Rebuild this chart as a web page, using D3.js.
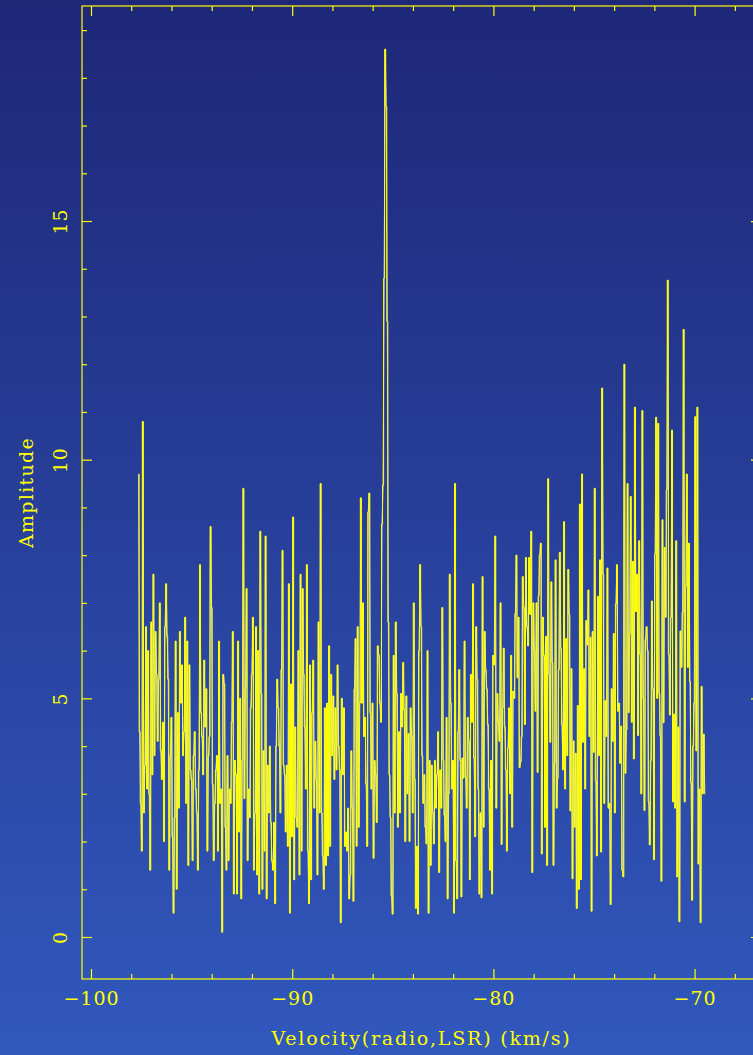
<!DOCTYPE html>
<html>
<head>
<meta charset="utf-8">
<script src="https://cdn.jsdelivr.net/npm/d3@7"></script>
<style>
    html, body { margin: 0; padding: 0; background: #2a44a0; }
    svg { display: block; }
</style>
</head>
<body>
<div id="chart"></div>
<script>
// spectrum channel grid (km/s)
const velocityStart = -97.66;
const channelWidth = 0.0526;

// amplitude per channel, read left to right
const amplitude = [
    9.7, 4.3, 2.8, 1.8, 10.8, 2.6, 3.6, 6.5, 3.1, 6.0,
    3.0, 1.4, 6.6, 3.4, 7.6, 3.8, 6.4, 5.5, 4.1, 5.4,
    7.0, 3.9, 3.3, 4.5, 2.0, 6.5, 7.4, 6.3, 5.4, 1.4,
    3.8, 4.6, 2.1, 0.5, 2.5, 6.2, 1.0, 4.7, 2.7, 6.4,
    4.9, 5.7, 3.8, 4.3, 6.7, 2.8, 6.2, 1.5, 5.7, 3.5,
    3.3, 1.6, 3.8, 4.3, 3.1, 2.6, 1.4, 3.5, 7.8, 4.7,
    4.2, 3.4, 5.8, 4.4, 5.2, 1.8, 3.8, 4.2, 8.6, 6.9,
    3.2, 1.6, 2.8, 3.5, 3.8, 1.8, 6.2, 2.8, 3.1, 0.1,
    5.5, 5.3,
    2.3, 1.4, 3.8, 1.6, 3.1, 2.8, 4.5, 6.4, 0.9, 3.7,
    3.4, 0.9, 6.2, 2.2, 5.0, 0.8, 3.7, 9.4, 2.9, 5.2,
    7.3, 1.6, 3.1, 2.5, 4.8, 5.5, 6.7, 1.4, 2.6, 6.5,
    1.3, 6.0, 0.9, 8.5, 5.1, 1.0, 3.9, 1.8, 8.4, 0.8,
    3.6, 2.6, 4.0, 2.4, 1.6, 1.4, 2.4, 0.7, 4.0, 5.4,
    4.8, 4.0, 2.6, 5.6, 8.1, 3.6, 3.4, 2.2, 3.6, 1.9,
    7.4, 0.5, 5.3, 2.1, 8.8, 1.2, 4.4, 2.5, 2.3, 6.0,
    1.3, 7.6, 1.8, 7.3, 5.5, 4.4, 3.1, 7.8, 1.8, 0.7,
    5.7, 1.2, 4.7, 5.8, 2.7, 4.1, 3.3, 1.3, 6.6, 2.6,
    9.5, 2.6, 1.7, 1.0, 4.8, 1.5,
    4.9, 1.7, 6.1, 1.9, 5.5, 3.8, 5.05, 3.3, 4.8, 3.5,
    5.7, 4.0, 3.5, 0.3, 5.0, 3.4, 4.8, 1.9, 2.2, 1.8,
    2.7, 0.8, 1.3, 3.9, 2.7, 0.75, 5.2, 6.25, 1.9, 6.5,
    2.3, 4.9, 9.2, 4.9, 7.0, 4.2, 4.6, 3.2, 1.9, 8.9,
    9.3, 4.7, 3.1, 4.9, 1.65, 3.7, 3.4, 2.4, 6.1, 5.9,
    4.9, 4.5, 8.65, 9.47, 13.8, 18.6, 17.4, 12.9, 6.6, 3.4,
    2.5, 0.86, 0.48, 5.9, 2.6, 6.6, 5.1, 2.3, 4.3, 2.6,
    5.1, 4.4, 5.75, 4.75, 2.0, 5.05, 3.0, 4.26, 2.0, 4.8,
    4.2, 2.6, 7.0, 3.3, 0.6, 1.9, 0.48, 6.0, 7.8, 6.5,
    3.8, 2.8, 3.4, 2.3, 1.95, 6.0, 0.5, 3.7, 1.5, 3.6,
    2.6, 1.95,
    3.7, 2.7, 3.4, 4.3, 1.35, 3.5, 2.7, 6.9, 3.7, 2.55,
    2.0, 4.6, 0.8, 3.0, 7.6, 4.9, 3.1, 3.7, 0.5, 9.5,
    1.6, 0.8, 4.3, 5.6, 3.7, 0.84, 3.75, 3.33, 6.2, 3.35,
    2.7, 4.6, 4.1, 1.2, 5.5, 4.5, 7.4, 3.75, 2.1, 6.5,
    5.4, 3.1, 0.9, 2.6, 0.82, 7.55, 2.3, 6.4, 5.6, 5.2,
    4.45, 3.1, 1.4, 3.7, 0.9, 5.9, 5.7, 8.4, 2.7, 5.1,
    4.5, 4.1, 7.0, 1.94, 4.8, 6.05, 4.4, 3.5, 1.8, 3.96,
    4.8, 3.0, 5.9, 2.3, 5.15, 5.0, 6.78, 8.0, 5.43, 6.7,
    3.55, 3.67, 4.2, 7.55, 6.9, 4.45, 7.95, 6.5, 6.1, 7.95,
    6.76, 8.5, 1.35,
    7.0, 6.0, 4.73, 7.0, 3.45, 7.15, 8.0, 8.25, 1.74, 6.7,
    5.9, 2.3, 6.3, 1.5, 9.6, 5.5, 4.08, 7.44, 5.75, 1.5,
    3.64, 7.9, 2.7, 3.33, 5.6, 8.06, 6.05, 4.45, 3.5, 8.7,
    3.1, 6.25, 3.8, 7.7, 6.75, 2.64, 5.62, 1.22, 4.11, 2.3,
    3.85, 0.6, 4.85, 1.0, 9.07, 1.2, 9.7, 4.08, 5.62, 3.1,
    6.63, 6.12, 7.27, 4.2, 6.28, 0.54, 6.4, 3.87, 9.4, 3.27,
    1.7, 7.14, 3.8, 7.9, 1.78, 11.5, 7.6, 2.8, 4.95, 4.2,
    7.73, 2.7, 2.8, 0.68, 5.2, 4.1, 6.36, 2.6, 6.98, 7.8,
    4.73, 4.9, 3.64, 4.42, 1.4, 1.26, 12.0, 3.43, 4.34, 9.5,
    4.7, 6.36, 9.23, 4.5,
    7.87, 3.73, 11.1, 6.82, 7.6, 4.22, 8.3, 5.92, 3.0, 11.03,
    5.0, 2.65, 6.23, 6.5, 6.0, 2.83, 1.93, 3.7, 7.04, 5.2,
    1.62, 8.03, 10.89, 5.0, 10.76, 5.1, 4.22, 1.17, 8.74, 4.49,
    8.16, 6.7, 9.37, 13.76, 5.92, 4.65, 6.7, 10.62, 2.83, 4.67,
    2.7, 8.3, 1.26, 4.4, 0.32, 6.41, 5.65, 6.8, 12.73, 2.83,
    7.35, 9.7, 5.65, 8.25, 5.35, 3.23, 0.77, 4.0, 4.9, 10.9,
    3.9, 11.1, 1.53, 3.1, 0.3, 5.25, 3.0, 4.25, 3.0
];

// axis layout values
const velocityDomain = [-100.447, -66.70];
const amplitudeDomain = [-0.88, 19.505];
const xMajorTicks = [-100, -90, -80, -70];
const xMinorTicks = [-98, -96, -94, -92, -88, -86, -84, -82, -78, -76, -74, -72, -68];
const yMajorTicks = [0, 5, 10, 15];
const yMinorTicks = [1, 2, 3, 4, 6, 7, 8, 9, 11, 12, 13, 14, 16, 17, 18, 19];
const xLabel = "Velocity(radio,LSR) (km/s)";
const yLabel = "Amplitude";

const width = 753, height = 1055;
const frame = { left: 82, right: 761, top: 6, bottom: 979 };
const ink = "#ffff00";
const font = "'DejaVu Serif', serif";

const channels = amplitude.map((a, i) => ({
    v: velocityStart + (i + 0.5) * channelWidth,
    a: a
}));

const x = d3.scaleLinear().domain(velocityDomain).range([frame.left, frame.right]);
const y = d3.scaleLinear().domain(amplitudeDomain).range([frame.bottom, frame.top]);

const svg = d3.select("#chart").append("svg")
    .attr("width", width)
    .attr("height", height)
    .attr("viewBox", [0, 0, width, height]);

const grad = svg.append("defs").append("linearGradient")
    .attr("id", "bg")
    .attr("x1", 0).attr("y1", 0).attr("x2", 0).attr("y2", 1);
grad.append("stop").attr("offset", "0%").attr("stop-color", "#1e2778");
grad.append("stop").attr("offset", "100%").attr("stop-color", "#3158bd");

svg.append("rect")
    .attr("width", width)
    .attr("height", height)
    .attr("fill", "url(#bg)");

// white trace through channel centres, under the histogram
svg.append("path")
    .datum(channels)
    .attr("fill", "none")
    .attr("stroke", "#ffffff")
    .attr("stroke-width", 0.8)
    .attr("d", d3.line().x(d => x(d.v)).y(d => y(d.a)));

svg.append("path")
    .datum(channels)
    .attr("fill", "none")
    .attr("stroke", ink)
    .attr("stroke-width", 1)
    .attr("d", d3.line().curve(d3.curveStep).x(d => x(d.v)).y(d => y(d.a)));

// ticks on all four sides, pointing inwards
function ticks(axis, transform, values, size) {
    const g = svg.append("g")
        .attr("transform", transform)
        .call(axis.tickValues(values).tickSize(size).tickFormat(""));
    g.select(".domain").remove();
    g.selectAll("line").attr("stroke", ink).attr("stroke-width", 1.2);
    return g;
}

ticks(d3.axisBottom(x), `translate(0,${frame.bottom})`, xMinorTicks, -5);
ticks(d3.axisTop(x), `translate(0,${frame.top})`, xMinorTicks, -5);
ticks(d3.axisTop(x), `translate(0,${frame.top})`, xMajorTicks, -10);
ticks(d3.axisLeft(y), `translate(${frame.left},0)`, yMinorTicks, -5);
ticks(d3.axisRight(y), `translate(${frame.right},0)`, yMinorTicks, -5);
ticks(d3.axisRight(y), `translate(${frame.right},0)`, yMajorTicks, -10);

const bottom = svg.append("g")
    .attr("transform", `translate(0,${frame.bottom})`)
    .call(d3.axisBottom(x).tickValues(xMajorTicks).tickSize(-10).tickPadding(13));
bottom.select(".domain").remove();
bottom.selectAll("line").attr("stroke", ink).attr("stroke-width", 1.2);
bottom.selectAll("text")
    .attr("fill", ink)
    .style("font", `19px ${font}`)
    .style("letter-spacing", "1px");

const left = svg.append("g")
    .attr("transform", `translate(${frame.left},0)`)
    .call(d3.axisLeft(y).tickValues(yMajorTicks).tickSize(-10));
left.select(".domain").remove();
left.selectAll("line").attr("stroke", ink).attr("stroke-width", 1.2);
left.selectAll("text")
    .attr("x", null)
    .attr("dy", null)
    .attr("text-anchor", "middle")
    .attr("transform", "translate(-15,0) rotate(-90)")
    .attr("fill", ink)
    .style("font", `19px ${font}`)
    .style("letter-spacing", "1px");

svg.append("rect")
    .attr("x", frame.left)
    .attr("y", frame.top)
    .attr("width", frame.right - frame.left)
    .attr("height", frame.bottom - frame.top)
    .attr("fill", "none")
    .attr("stroke", ink)
    .attr("stroke-width", 1.2);

svg.append("text")
    .attr("x", (frame.left + frame.right) / 2)
    .attr("y", 1045)
    .attr("text-anchor", "middle")
    .attr("fill", ink)
    .style("font", `19px ${font}`)
    .style("letter-spacing", "1.8px")
    .text(xLabel);

svg.append("text")
    .attr("transform", `translate(33,${(frame.top + frame.bottom) / 2}) rotate(-90)`)
    .attr("text-anchor", "middle")
    .attr("fill", ink)
    .style("font", `19px ${font}`)
    .style("letter-spacing", "1.3px")
    .text(yLabel);
</script>
</body>
</html>
